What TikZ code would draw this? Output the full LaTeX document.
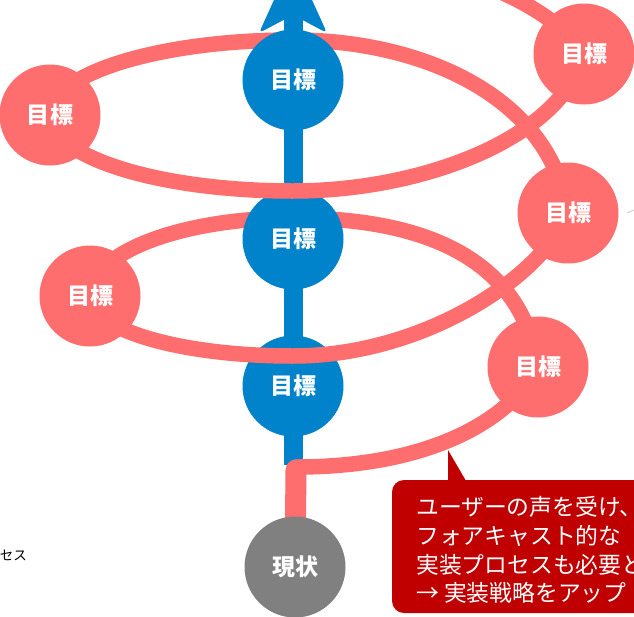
\documentclass[tikz,border=0pt]{standalone}
\usepackage{fontspec}
\newfontfamily\jp{Noto Sans CJK JP}
\definecolor{bl}{HTML}{0083CA}
\definecolor{rd}{HTML}{FF6E6E}
\definecolor{gy}{HTML}{808080}
\definecolor{dr}{HTML}{C00000}
\begin{document}
\begin{tikzpicture}[x=1pt,y=-1pt,
  spiral/.style={draw=rd, line width=15.5pt, line cap=round},
  goal/.style={circle, fill=rd, minimum size=101pt, inner sep=0pt, text=white,
    font=\jp\bfseries\fontsize{23}{26}\selectfont},
  bgoal/.style={goal, fill=bl},
  nowc/.style={goal, fill=gy},
  calltext/.style={anchor=west, inner sep=0pt, text=white,
    font=\jp\fontsize{22.8}{26}\selectfont},
  side/.style={anchor=east, inner sep=0pt, text=black,
    font=\jp\fontsize{13.5}{16}\selectfont}]
\useasboundingbox (0,0) rectangle (634,616);
\clip (0,0) rectangle (634,616);
% key points
\coordinate (L1) at (50,115);
\coordinate (L2) at (90,296);
\coordinate (R1) at (538,367);
\coordinate (R2) at (568,213);
\coordinate (R3) at (584,54);
\coordinate (T1) at (293,40);
\coordinate (B1) at (293,191);
\coordinate (T2) at (293,218);
\coordinate (B2) at (293,356);
\coordinate (K) at (296,467);
\coordinate (KT) at (296,470);
\coordinate (G) at (295,567);
\coordinate (E) at (440,-30);
\coordinate (ST) at (293,465);
\coordinate (AT) at (293,5);
% back parts of the spiral
\draw[spiral] (R3) .. controls (560,20) and (515,-8) .. (E);
\draw[spiral] (R2) .. controls (550,95) and (420,40) .. (T1)
              .. controls (159,40) and (50,74) .. (L1);
\draw[spiral] (R1) .. controls (520,250) and (410,218) .. (T2)
              .. controls (181,218) and (90,253) .. (L2);
% blue axis
\draw[bl, line width=19pt] (ST) -- (AT);
\fill[bl, rounded corners=5pt] (259,33) -- (293,-42) -- (327,33) -- (293,15) -- cycle;
\node[bgoal] (g1) at (293,80) {目標};
\node[bgoal] (g2) at (293,239) {目標};
\node[bgoal] (g3) at (293,386) {目標};
% front parts of the spiral
\draw[rd, line width=21pt, line cap=round] (G) -- (KT);
\draw[spiral] (K) .. controls (430,467) and (510,420) .. (R1);
\draw[spiral] (L2) .. controls (90,330) and (181,356) .. (B2)
              .. controls (420,356) and (540,280) .. (R2);
\draw[spiral] (L1) .. controls (50,157) and (159,191) .. (B1)
              .. controls (420,191) and (560,140) .. (R3);
% red goals
\node[goal] (n1) at (L1) {目標};
\node[goal] (n2) at (L2) {目標};
\node[goal] (n3) at (R1) {目標};
\node[goal] (n4) at (R2) {目標};
\node[goal] (n5) at (R3) {目標};
\node[nowc] (now) at (G) {現状};
% callout
\fill[dr, rounded corners=12pt] (392,480) rectangle (670,613);
\fill[dr] (448,450) -- (448,486) -- (469,486) -- cycle;
\node[calltext] (c1) at (416,507) {ユーザーの声を受け、};
\node[calltext] (c2) at (416,536) {フォアキャスト的な};
\node[calltext] (c3) at (416,565) {実装プロセスも必要と};
\node[calltext] (c4) at (416,593) {→ 実装戦略をアップ};
% side text
\node[side] (sx) at (27,555) {セス};
\draw[gray!35, line width=1pt] (627,213) -- (634,210);
\end{tikzpicture}
\end{document}
